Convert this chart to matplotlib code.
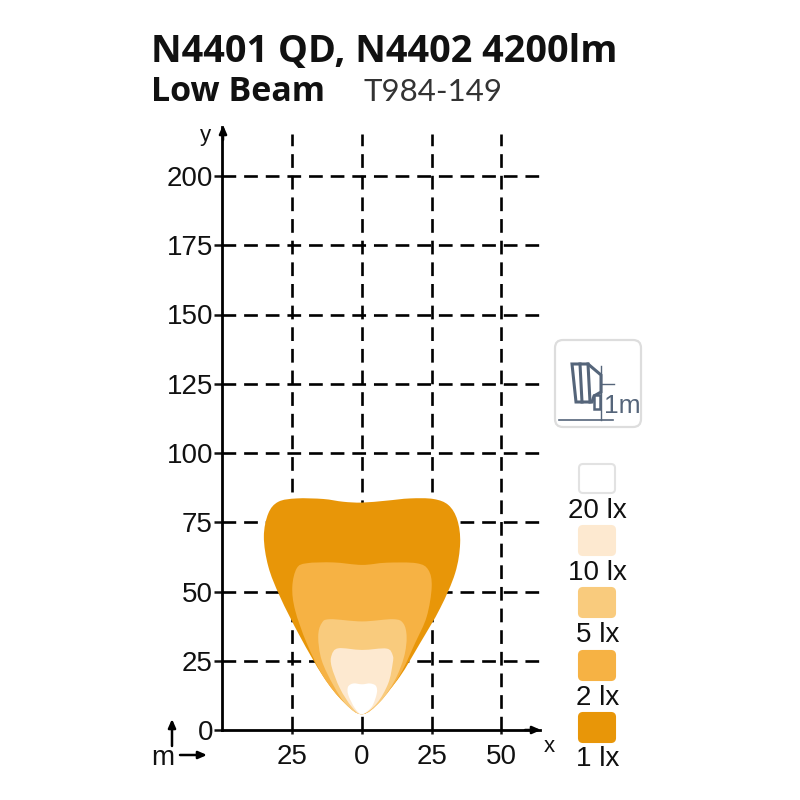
import numpy as np
import matplotlib
matplotlib.use("Agg")
import matplotlib.pyplot as plt
from matplotlib.path import Path
from matplotlib.patches import PathPatch, FancyBboxPatch, Polygon

title_line = "N4401 QD, N4402 4200lm"
subtitle = "Low Beam"
code = "T984-149"

x_ticks = [-25, 0, 25, 50]
x_labels = ["25", "0", "25", "50"]
y_ticks = [0, 25, 50, 75, 100, 125, 150, 175, 200]

legend_labels = ["20 lx", "10 lx", "5 lx", "2 lx", "1 lx"]
legend_colors = ["#FFFFFF", "#FDE9D0", "#F9CB7D", "#F6B244", "#E89608"]

lx1 = [(0, 5.7), (6.5, 10.8), (13.6, 19.3), (20.8, 31.3), (28, 43.9), (33.4, 56.6), (35.2, 67.4),
       (34.2, 75.8), (31, 81.2), (25.6, 83.4), (17.2, 83.6), (8.8, 82.8), (0, 82.1), (-6.7, 82.4),
       (-13.9, 83.4), (-23.4, 83.6), (-30, 82.4), (-33.6, 78.2), (-35.2, 69.8), (-33.6, 59),
       (-29.4, 48.1), (-22.2, 33.7), (-13.9, 19.3), (-6.7, 10.2)]
lx2 = [(0, 5.7), (6.5, 10.2), (13.6, 19.9), (19, 31.3), (23.2, 40.9), (25, 51.7), (23.8, 57.8),
       (19.6, 60.2), (8.8, 60.4), (0, 59.6), (-10.3, 60.5), (-19.8, 60.2), (-23.4, 58.4),
       (-25, 51.7), (-24, 43.3), (-19.8, 31.3), (-13.9, 19.3), (-6.7, 10.2)]
lx5 = [(0, 5.7), (6.5, 10.2), (11.8, 18), (15.1, 26.5), (16, 33.7), (14.8, 38.5), (11.2, 40),
       (0, 39.2), (-11.5, 40), (-14.5, 38.5), (-15.7, 33.7), (-14.5, 25.3), (-10.3, 16.2), (-5.5, 9)]
lx10 = [(0, 5.7), (5.3, 9.6), (9.4, 16.8), (11, 24), (11, 27), (8.8, 29.4), (0, 28.9), (-8.5, 29.5),
        (-10.9, 27), (-10.9, 22.9), (-7.9, 15), (-3.7, 8.4)]
lx20 = [(0, 5.7), (3.5, 8.4), (5.3, 13.2), (5, 15.9), (2.9, 16.8), (0, 16.5), (-3.1, 16.8),
        (-5, 15.6), (-4.9, 12.6), (-2.5, 7.8)]
contours = [lx1, lx2, lx5, lx10, lx20]
contour_colors = legend_colors[::-1]


def smooth_path(pts):
    """Closed Bezier outline through the read points."""
    p = np.array(pts, float)
    n = len(p)
    verts, codes = [p[0]], [Path.MOVETO]
    for i in range(n):
        a, b, c, d = p[i - 1], p[i], p[(i + 1) % n], p[(i + 2) % n]
        verts += [b + (c - a) / 6, c - (d - b) / 6, c]
        codes += [Path.CURVE4] * 3
    return Path(np.array(verts), codes)


plt.rcParams["font.family"] = ["Liberation Sans", "DejaVu Sans"]
fig = plt.figure(figsize=(8, 8), dpi=100)

# main axes: left spine at px 222, baseline at px 730
L, R, T, B = 222, 540, 127, 730
ax = fig.add_axes([L / 800, 1 - B / 800, (R - L) / 800, (B - T) / 800])
ax.set_xlim((L - 362) / 2.788, (R - 362) / 2.788)
ax.set_ylim(0, (B - T) / 2.77)
ax.patch.set_alpha(0)
for s in ("top", "right"):
    ax.spines[s].set_visible(False)
for s in ("left", "bottom"):
    ax.spines[s].set_linewidth(2.0)

dash = (0, (5.2, 3.0))
for v in x_ticks:
    ax.plot([v, v], [0, 215], color="black", lw=1.9, ls=dash, zorder=1)
for v in y_ticks[1:]:
    ax.plot([ax.get_xlim()[0], ax.get_xlim()[1]], [v, v], color="black", lw=1.9, ls=dash, zorder=1)

for pts, col in zip(contours, contour_colors):
    ax.add_patch(PathPatch(smooth_path(pts), facecolor=col, edgecolor="none", zorder=3))

ax.set_xticks(x_ticks, x_labels)
ax.set_yticks(y_ticks)
ax.tick_params(axis="x", labelsize=20, length=3, width=1.8, pad=7, colors="#111111")
ax.tick_params(axis="y", labelsize=20, length=6, width=1.8, pad=0.5, colors="#111111")

# overlay in pixel coordinates
ov = fig.add_axes([0, 0, 1, 1])
ov.set_xlim(0, 800)
ov.set_ylim(800, 0)
ov.axis("off")
ov.patch.set_alpha(0)

arrow = dict(arrowstyle="-|>,head_length=0.5,head_width=0.22", color="black", lw=1.8, shrinkA=0, shrinkB=0)
ov.annotate("", xy=(223, 125), xytext=(223, 140), arrowprops=arrow)
ov.annotate("", xy=(541, 730), xytext=(525, 730), arrowprops=arrow)
ov.annotate("", xy=(172, 719), xytext=(172, 746), arrowprops=arrow)
ov.annotate("", xy=(207, 755), xytext=(180, 755), arrowprops=arrow)
ov.text(163, 758, "m", fontsize=20, ha="center", va="center", color="#111111")
ov.text(549, 747, "x", fontsize=16, ha="center", va="center", color="#111111")
ov.text(205, 135, "y", fontsize=16, ha="center", va="center", color="#111111")

# titles
ov.text(151, 52, title_line, fontsize=27.2, fontweight="bold", family="Open Sans", ha="left", va="center", color="#111111")
ov.text(151, 92, subtitle, fontsize=24.5, fontweight="bold", family="Open Sans", ha="left", va="center", color="#111111")
ov.text(363, 92, code, fontsize=22.5, family="Lato", fontweight="normal", ha="left", va="center", color="#333333")

# mounting-height icon
ov.add_patch(FancyBboxPatch((555, 340), 86, 87, boxstyle="round,pad=0,rounding_size=8",
                            fc="white", ec="#DDDDDD", lw=1.6))
ic = "#55657A"
ov.add_patch(Polygon([(572, 364), (588, 364), (601, 375), (601, 392), (594, 396), (592, 402), (576, 402)],
                     closed=True, fc="none", ec=ic, lw=2.2))
ov.plot([580, 582], [364, 402], color=ic, lw=2.2)
ov.plot([588, 590], [364, 402], color=ic, lw=2.2)
ov.plot([601, 601], [366, 420], color=ic, lw=1)
ov.plot([601, 614], [384, 384], color=ic, lw=1)
ov.plot([559, 613], [420, 420], color=ic, lw=1.2)
ov.add_patch(Polygon([(594, 395), (600, 395), (600, 409), (594, 409)], closed=True, fc="white", ec=ic, lw=1.8))
ov.text(622, 406, "1m", fontsize=19, ha="center", va="center", color=ic)

# legend
swatch_tops = [463, 525, 587, 650, 712]
label_ys = [511, 573, 635, 698, 759]
for top, ly, lab, col in zip(swatch_tops, label_ys, legend_labels, legend_colors):
    ec = "#E2E2E2" if col == "#FFFFFF" else col
    ov.add_patch(FancyBboxPatch((579, top + 1), 36, 29, boxstyle="round,pad=0,rounding_size=4",
                                fc=col, ec=ec, lw=1.5))
    ov.text(597.5, ly, lab, fontsize=20, ha="center", va="center", color="#111111")

fig.savefig("out.png", dpi=100)
